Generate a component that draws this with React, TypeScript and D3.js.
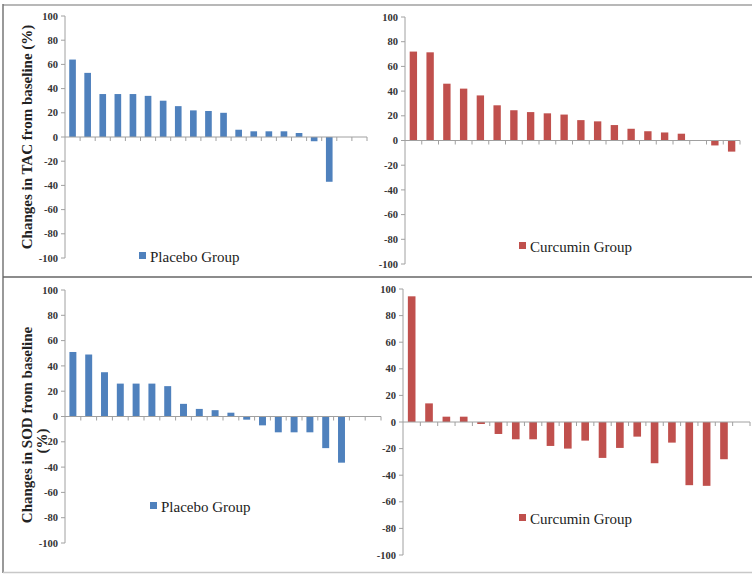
import React from "react";
import * as d3 from "d3";

const categories = ["1","2","3","4","5","6","7","8","9","10","11","12","13","14","15","16","17","18","19","20"];
const yTicks = [100, 80, 60, 40, 20, 0, -20, -40, -60, -80, -100];

const tacPlacebo = [64, 53, 35.5, 35.5, 35.5, 34, 30, 25.5, 22, 21.5, 20, 6, 4.7, 4.7, 4.7, 3.3, -3.5, -37, null, null];
const tacCurcumin = [72, 71.4, 46, 42, 36.5, 28.5, 24.5, 23, 22, 21, 16.5, 15.5, 12.5, 9.5, 7.5, 6.5, 5.5, null, -4, -9];
const sodPlacebo = [51, 49, 35, 26, 26, 26, 24, 10, 6, 5, 3, -2.5, -7, -12.5, -12.5, -12.5, -25, -36.5, null, null];
const sodCurcumin = [94.5, 14, 4, 4, -1.5, -9, -13, -13, -18, -20, -14, -27, -19.5, -11, -31, -15.5, -47.5, -48, -28, null];

const BLUE = "#4F81BD";
const RED = "#C0504D";
const FONT = "'Liberation Serif', 'DejaVu Serif', serif";

type PanelProps = {
  values: (number | null)[];
  color: string;
  x0: number;
  x1: number;
  yTop: number;
  yBot: number;
  legend: string;
  legX: number;
  legY: number;
};

function Panel({ values, color, x0, x1, yTop, yBot, legend, legX, legY }: PanelProps) {
  const x = d3.scaleBand<string>().domain(categories).range([x0, x1]).paddingInner(0.56).paddingOuter(0.28);
  const y = d3.scaleLinear().domain([-100, 100]).range([yBot, yTop]);
  const step = x.step();
  const axisColor = "#a0a0a0";
  return (
    <g>
      <line x1={x0} x2={x0} y1={yTop} y2={yBot} stroke={axisColor} strokeWidth={1} />
      {yTicks.map((t) => (
        <g key={t}>
          <line x1={x0 - 4} x2={x0} y1={y(t)} y2={y(t)} stroke={axisColor} strokeWidth={1} />
          <text x={x0 - 7} y={y(t)} dy="0.35em" textAnchor="end" fontFamily={FONT} fontSize={10.5} fontWeight="bold" fill="#333">
            {t}
          </text>
        </g>
      ))}
      {values.map((v, i) =>
        v === null ? null : (
          <rect
            key={i}
            x={x(categories[i])}
            width={x.bandwidth()}
            y={Math.min(y(v), y(0))}
            height={Math.abs(y(v) - y(0))}
            fill={color}
          />
        )
      )}
      <line x1={x0} x2={x1} y1={y(0)} y2={y(0)} stroke={axisColor} strokeWidth={1} />
      {categories.map((c, i) => (
        <line key={c} x1={x0 + step * (i + 1)} x2={x0 + step * (i + 1)} y1={y(0)} y2={y(0) + 4} stroke={axisColor} strokeWidth={1} />
      ))}
      <rect x={legX} y={legY - 10} width={7} height={7} fill={color} />
      <text x={legX + 11} y={legY} fontFamily={FONT} fontSize={15} fill="#222">
        {legend}
      </text>
    </g>
  );
}

export default function App() {
  return (
    <svg width={752} height={574} style={{ position: "absolute", left: 0, top: 0, background: "#fff" }}>
      <rect x={0} y={0} width={752} height={574} fill="#fff" />
      <line x1={3} x2={752} y1={5} y2={5} stroke="#b8b8b8" strokeWidth={2} />
      <line x1={3} x2={3} y1={4} y2={573} stroke="#777" strokeWidth={1.5} />
      <line x1={3} x2={752} y1={277} y2={277} stroke="#666" strokeWidth={1.5} />
      <line x1={3} x2={752} y1={572.5} y2={572.5} stroke="#c8c8c8" strokeWidth={1.5} />

      <Panel values={tacPlacebo} color={BLUE} x0={65} x1={367} yTop={16} yBot={258} legend="Placebo Group" legX={139} legY={262} />
      <Panel values={tacCurcumin} color={RED} x0={405} x1={740} yTop={17} yBot={264} legend="Curcumin Group" legX={519} legY={252} />
      <Panel values={sodPlacebo} color={BLUE} x0={65} x1={381} yTop={290} yBot={543} legend="Placebo Group" legX={150} legY={512} />
      <Panel values={sodCurcumin} color={RED} x0={403} x1={750} yTop={289} yBot={555} legend="Curcumin Group" legX={519} legY={524} />

      <text transform="translate(32,137) rotate(-90)" textAnchor="middle" fontFamily={FONT} fontSize={15} fontWeight="bold" fill="#222">
        Changes in TAC from baseline (%)
      </text>
      <text transform="translate(32,425) rotate(-90)" textAnchor="middle" fontFamily={FONT} fontSize={15} fontWeight="bold" fill="#222">
        Changes in SOD from baseline
      </text>
      <text transform="translate(47,441) rotate(-90)" textAnchor="middle" fontFamily={FONT} fontSize={15} fontWeight="bold" fill="#222">
        (%)
      </text>
    </svg>
  );
}
